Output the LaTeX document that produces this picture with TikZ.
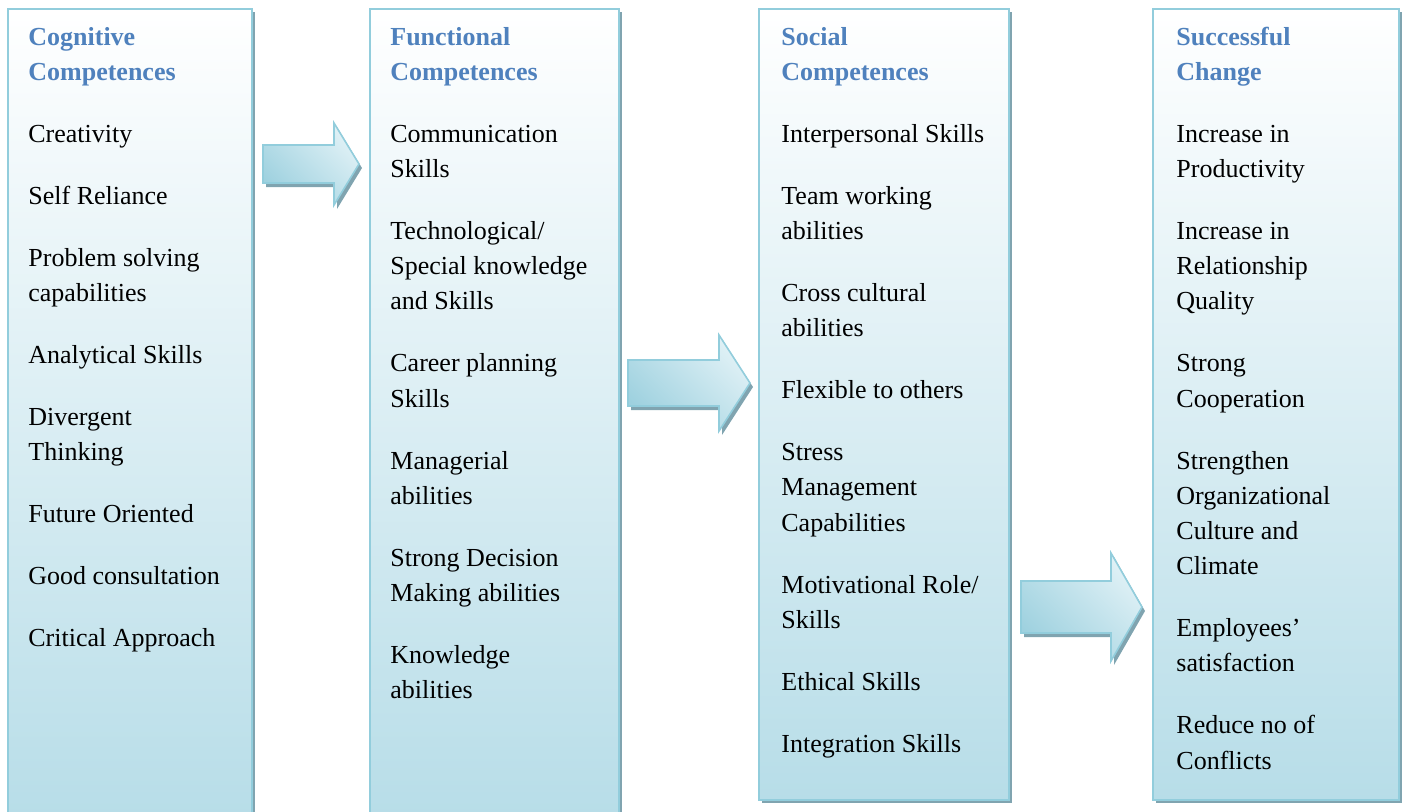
\documentclass[tikz,border=0pt]{standalone}
\usepackage{fontspec}
\setmainfont{Liberation Serif}
\usetikzlibrary{positioning}

\definecolor{headblue}{RGB}{79,129,189}
\definecolor{boxline}{RGB}{146,205,220}
\definecolor{boxfill}{RGB}{183,221,232}
\definecolor{boxshadow}{RGB}{128,164,176}
\definecolor{arrowdark}{RGB}{158,209,223}
\definecolor{arrowlight}{RGB}{224,241,246}

\tikzset{
	colbox/.style={draw=boxline, line width=1pt, top color=white, bottom color=boxfill},
	flowarrow/.style={draw=boxline, line width=0.8pt, top color=arrowlight, bottom color=arrowdark, shading angle=-45},
	item/.style={align=flush left, text width=112pt, inner sep=0pt, font=\fontsize{13}{17.6}\selectfont, execute at begin node=\strut, execute at end node=\strut},
	head/.style={item, font=\fontsize{13}{17.6}\selectfont\bfseries, text=headblue},
	next/.style={below right=13pt and 0pt of #1.south west}
}

%block arrow: start x, middle y, half shaft, half head, head x, tip x
\newcommand{\flowarr}[6]{%
	\fill[boxshadow, shift={(3,4)}] (#1,#2-#3) -- (#5,#2-#3) -- (#5,#2-#4) -- (#6,#2) -- (#5,#2+#4) -- (#5,#2+#3) -- (#1,#2+#3) -- cycle;
	\draw[flowarrow] (#1,#2-#3) -- (#5,#2-#3) -- (#5,#2-#4) -- (#6,#2) -- (#5,#2+#4) -- (#5,#2+#3) -- (#1,#2+#3) -- cycle;
}

\begin{document}
\begin{tikzpicture}[x=0.5pt, y=-0.5pt]
	\useasboundingbox (0,0) rectangle (1404,811);

	%columns with their shadows
	\fill[boxshadow] (11,12) rectangle (255,820);
	\path[colbox] (8,9) rectangle (252,820);
	\fill[boxshadow] (373,12) rectangle (622,820);
	\path[colbox] (370,9) rectangle (619,820);
	\fill[boxshadow] (762,12) rectangle (1012,803);
	\path[colbox] (759,9) rectangle (1009,800);
	\fill[boxshadow] (1156,12) rectangle (1402,803);
	\path[colbox] (1153,9) rectangle (1399,800);

	%arrows between the columns
	\flowarr{263}{164}{19}{41}{334}{359}
	\flowarr{628}{383}{23}{48}{719}{750}
	\flowarr{1021}{607}{26}{54}{1111}{1142}

	%cognitive competences
	\node[head, anchor=north west] (cog) at (28,20) {Cognitive\\Competences};
	\node[item, next=cog] (cog1) {Creativity};
	\node[item, next=cog1] (cog2) {Self Reliance};
	\node[item, next=cog2] (cog3) {Problem solving\\capabilities};
	\node[item, next=cog3] (cog4) {Analytical Skills};
	\node[item, next=cog4] (cog5) {Divergent\\Thinking};
	\node[item, next=cog5] (cog6) {Future Oriented};
	\node[item, next=cog6] (cog7) {Good consultation};
	\node[item, next=cog7] (cog8) {Critical Approach};

	%functional competences
	\node[head, anchor=north west] (fun) at (390,20) {Functional\\Competences};
	\node[item, next=fun] (fun1) {Communication\\Skills};
	\node[item, next=fun1] (fun2) {Technological/\\Special knowledge\\and Skills};
	\node[item, next=fun2] (fun3) {Career planning\\Skills};
	\node[item, next=fun3] (fun4) {Managerial\\abilities};
	\node[item, next=fun4] (fun5) {Strong Decision\\Making abilities};
	\node[item, next=fun5] (fun6) {Knowledge\\abilities};

	%social competences
	\node[head, anchor=north west] (soc) at (781,20) {Social\\Competences};
	\node[item, next=soc] (soc1) {Interpersonal Skills};
	\node[item, next=soc1] (soc2) {Team working\\abilities};
	\node[item, next=soc2] (soc3) {Cross cultural\\abilities};
	\node[item, next=soc3] (soc4) {Flexible to others};
	\node[item, next=soc4] (soc5) {Stress\\Management\\Capabilities};
	\node[item, next=soc5] (soc6) {Motivational Role/\\Skills};
	\node[item, next=soc6] (soc7) {Ethical Skills};
	\node[item, next=soc7] (soc8) {Integration Skills};

	%successful change
	\node[head, anchor=north west] (suc) at (1176,20) {Successful\\Change};
	\node[item, next=suc] (suc1) {Increase in\\Productivity};
	\node[item, next=suc1] (suc2) {Increase in\\Relationship\\Quality};
	\node[item, next=suc2] (suc3) {Strong\\Cooperation};
	\node[item, next=suc3] (suc4) {Strengthen\\Organizational\\Culture and\\Climate};
	\node[item, next=suc4] (suc5) {Employees'\\satisfaction};
	\node[item, next=suc5] (suc6) {Reduce no of\\Conflicts};
\end{tikzpicture}
\end{document}
